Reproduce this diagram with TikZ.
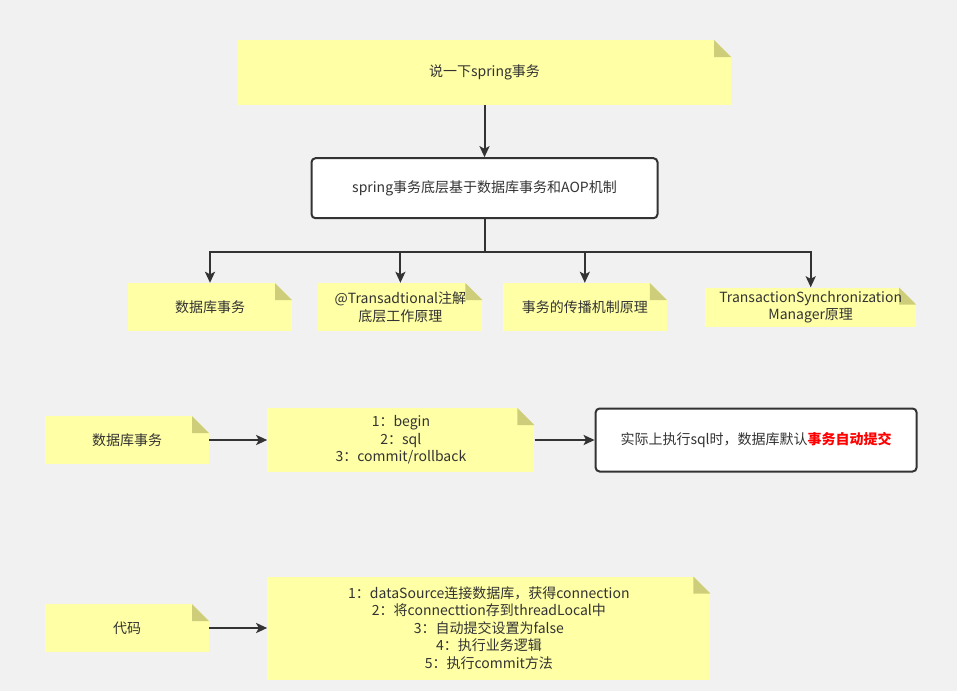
\documentclass[tikz,border=0pt]{standalone}
\usepackage{fontspec}
\setmainfont{Noto Sans CJK SC}
\usetikzlibrary{arrows.meta, positioning}
\definecolor{PageGray}{RGB}{241, 241, 241}
\definecolor{NoteYellow}{RGB}{255, 255, 166}
\definecolor{NoteFold}{RGB}{206, 206, 122}
\definecolor{InkGray}{RGB}{51, 51, 51}
\tikzset{
  notebox/.style={rectangle, fill=NoteYellow, inner sep=0pt,
                  font=\fontsize{14}{17.5}\selectfont, text=InkGray, align=center,
                  path picture={
                    \fill[PageGray] ([xshift=-17pt]path picture bounding box.north east)
                      -- (path picture bounding box.north east)
                      -- ([yshift=-17pt]path picture bounding box.north east) -- cycle;
                    \fill[NoteFold] ([xshift=-17pt]path picture bounding box.north east)
                      -- ([xshift=-17pt, yshift=-17pt]path picture bounding box.north east)
                      -- ([yshift=-17pt]path picture bounding box.north east) -- cycle;
                  }},
  whitebox/.style={rectangle, rounded corners=4pt, draw=InkGray, line width=2pt, fill=white,
                   inner sep=0pt, font=\fontsize{14}{17.5}\selectfont, text=InkGray, align=center},
  arr/.style={-{Stealth[length=11pt, width=10pt, inset=2.5pt]}, line width=2pt, color=InkGray},
  link/.style={line width=2pt, color=InkGray},
}
\begin{document}
\begin{tikzpicture}[x=1pt, y=-1pt, node distance=52pt]
  \fill[PageGray] (0,0) rectangle (957,691);
  \useasboundingbox (0,0) rectangle (957,691);

  % question and answer
  \node[notebox, minimum width=493pt, minimum height=65pt] (ask) at (484.5,72.5)
       {说一下spring事务};
  \node[whitebox, minimum width=346pt, minimum height=60pt, below=52pt of ask] (base)
       {spring事务底层基于数据库事务和AOP机制};

  % four topics
  \node[notebox, minimum width=164pt, minimum height=48pt] (dbtx) at (210,307)
       {数据库事务};
  \node[notebox, minimum width=164pt, minimum height=48pt, right=26pt of dbtx] (anno)
       {@Transadtional注解\\底层工作原理};
  \node[notebox, minimum width=164pt, minimum height=48pt, right=20pt of anno] (prop)
       {事务的传播机制原理};
  \node[notebox, minimum width=211pt, minimum height=39pt, right=38pt of prop] (sync)
       {TransactionSynchronization\\Manager原理};

  \coordinate (fork) at ([yshift=-33pt]base.south);

  \draw[arr]  (ask) -- (base);
  \draw[link] (base) -- (fork);
  \draw[arr]  (fork) -| (dbtx.north);
  \draw[arr]  (fork) -| (anno.north);
  \draw[arr]  (fork) -| (prop.north);
  \draw[arr]  (fork) -| (sync.north);

  % database transaction
  \node[notebox, minimum width=164pt, minimum height=48pt] (dbrow) at (127,440)
       {数据库事务};
  \node[notebox, minimum width=267pt, minimum height=64pt, right=58pt of dbrow] (steps)
       {1：begin\\2：sql\\3：commit/rollback};
  \node[whitebox, minimum width=321pt, minimum height=63pt, right=60pt of steps] (autocommit)
       {实际上执行sql时，数据库默认\textcolor{red}{\bfseries 事务自动提交}};

  \draw[arr] (dbrow) -- (steps);
  \draw[arr] (steps) -- (autocommit);

  % code
  \node[notebox, minimum width=164pt, minimum height=48pt] (code) at (127,628)
       {代码};
  \node[notebox, minimum width=443pt, minimum height=103pt, right=58pt of code] (flow)
       {1：dataSource连接数据库，获得connection\\
        2：将connecttion存到threadLocal中\\
        3：自动提交设置为false\\
        4：执行业务逻辑\\
        5：执行commit方法};

  \draw[arr] (code) -- (flow);
\end{tikzpicture}
\end{document}
